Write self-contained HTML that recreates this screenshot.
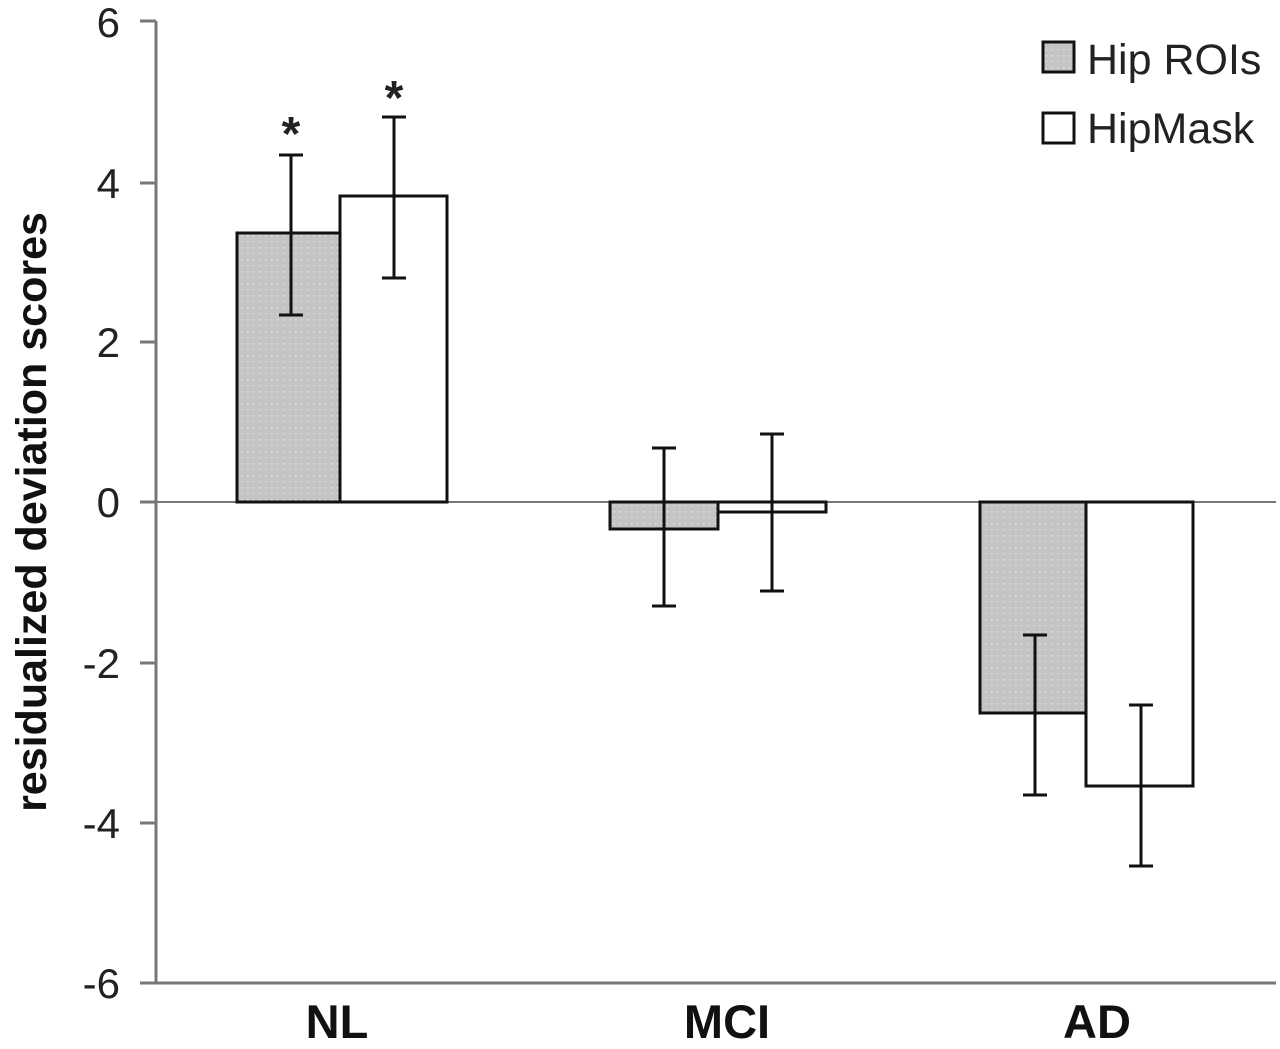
<!DOCTYPE html>
<html><head><style>body{margin:0;background:#fff}</style></head><body>
<svg width="1280" height="1044" xmlns="http://www.w3.org/2000/svg">
<defs><pattern id="dots" width="6" height="6" patternUnits="userSpaceOnUse"><rect width="6" height="6" fill="#c4c4c4"/><rect x="1" y="1" width="1.5" height="1.5" fill="#dcdcdc"/></pattern></defs>
<g font-family="Liberation Sans, sans-serif" fill="#222">
<g font-size="42" text-anchor="end">
<text x="120" y="37">6</text><text x="120" y="198">4</text><text x="120" y="357">2</text>
<text x="120" y="517">0</text><text x="120" y="678">-2</text><text x="120" y="838">-4</text><text x="120" y="998">-6</text>
</g>
<text transform="translate(46,512) rotate(-90)" font-size="43" font-weight="bold" text-anchor="middle" fill="#111">residualized deviation scores</text>
<g font-size="47" font-weight="bold" text-anchor="middle" fill="#111">
<text x="337" y="1038">NL</text><text x="727" y="1038">MCI</text><text x="1097" y="1038">AD</text>
</g>
<g font-size="43"><text x="1087" y="74">Hip ROIs</text><text x="1087" y="143">HipMask</text></g>
<text x="291" y="150" font-size="48" font-weight="bold" text-anchor="middle">*</text>
<text x="394" y="114" font-size="48" font-weight="bold" text-anchor="middle">*</text>
</g>
<g stroke="#777" stroke-width="3" fill="none">
<line x1="156" y1="21" x2="156" y2="984"/>
<line x1="140" y1="21" x2="156" y2="21"/><line x1="140" y1="183" x2="156" y2="183"/>
<line x1="140" y1="342" x2="156" y2="342"/><line x1="140" y1="502" x2="156" y2="502"/>
<line x1="140" y1="663" x2="156" y2="663"/><line x1="140" y1="823" x2="156" y2="823"/>
<line x1="140" y1="983" x2="1276" y2="983"/>
<line x1="156" y1="502" x2="1276" y2="502" stroke-width="2"/>
</g>
<g stroke="#111" stroke-width="3">
<rect x="237" y="233" width="103" height="269" fill="url(#dots)"/>
<rect x="340" y="196" width="107" height="306" fill="#fff"/>
<rect x="610" y="502" width="108" height="27" fill="url(#dots)"/>
<rect x="718" y="502" width="108" height="10" fill="#fff"/>
<rect x="980" y="502" width="106" height="211" fill="url(#dots)"/>
<rect x="1086" y="502" width="107" height="284" fill="#fff"/>
<rect x="1043" y="42" width="31" height="30" fill="url(#dots)"/>
<rect x="1043" y="113" width="31" height="30" fill="#fff"/>
<path fill="none" d="M291 155V315M279 155H303M279 315H303
M394 117V278M382 117H406M382 278H406
M664 448V606M652 448H676M652 606H676
M772 434V591M760 434H784M760 591H784
M1035 635V795M1023 635H1047M1023 795H1047
M1141 705V866M1129 705H1153M1129 866H1153"/>
</g>
</svg>
</body></html>
